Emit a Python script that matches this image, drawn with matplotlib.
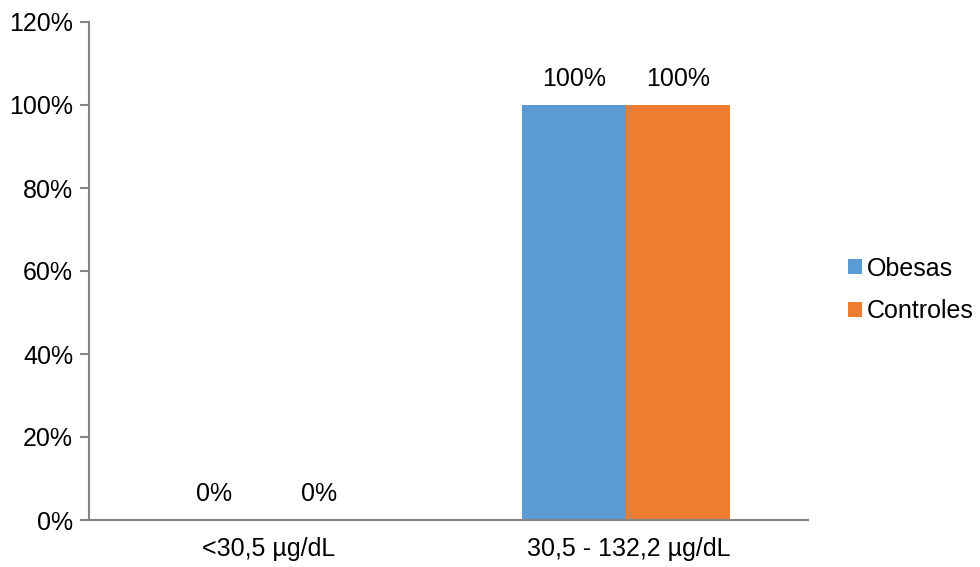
import numpy as np
from matplotlib import pyplot as plt
from matplotlib.ticker import PercentFormatter

categories = ['<30,5 µg/dL', '30,5 - 132,2 µg/dL']
obesas = [0, 100]
controles = [0, 100]
series_names = ['Obesas', 'Controles']
colors = ['#5B9BD5', '#ED7D31']

plt.rcParams['font.family'] = ['Liberation Sans', 'DejaVu Sans']
plt.rcParams['font.size'] = 18

fig = plt.figure(figsize=(9.8, 5.67), dpi=100)
ax = fig.add_axes([89 / 980, 1 - 520 / 567, (808 - 89) / 980, (520 - 22) / 567])

x = np.arange(len(categories)) - 0.006
w = 0.29
bars1 = ax.bar(x - w / 2, obesas, w, color=colors[0], label=series_names[0])
bars2 = ax.bar(x + w / 2, controles, w, color=colors[1], label=series_names[1])

for bars, vals in [(bars1, obesas), (bars2, controles)]:
    for b, v in zip(bars, vals):
        ax.annotate(f'{v}%', (b.get_x() + b.get_width() / 2, v),
                    xytext=(0, 10), textcoords='offset points',
                    ha='center', va='bottom')

ax.set_xlim(-0.5, 1.5)
ax.set_ylim(0, 120)
ax.set_yticks(range(0, 121, 20))
ax.yaxis.set_major_formatter(PercentFormatter(decimals=0))
ax.set_xticks(np.arange(len(categories)))
ax.set_xticklabels(categories)

grey = '#868686'
for side in ['top', 'right']:
    ax.spines[side].set_visible(False)
for side in ['left', 'bottom']:
    ax.spines[side].set_color(grey)
    ax.spines[side].set_linewidth(1.5)
ax.tick_params(axis='y', length=6.5, width=1.5, color=grey, pad=5)
ax.tick_params(axis='x', length=0, pad=12)

fig.legend(loc='center left', bbox_to_anchor=(848 / 980, 1 - 290 / 567),
           frameon=False, handlelength=0.55, handleheight=0.55,
           handletextpad=0.2, labelspacing=0.75, borderpad=0,
           borderaxespad=0)

fig.savefig('out.png', dpi=100)
